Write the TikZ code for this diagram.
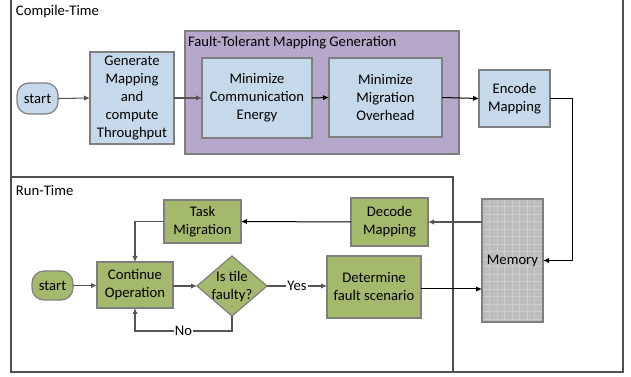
\documentclass[tikz,border=0pt]{standalone}
\usepackage{fontspec}
\setmainfont{Carlito}
\usetikzlibrary{arrows.meta,shapes.geometric}
\definecolor{boxblue}{HTML}{C6D9EA}
\definecolor{boxgreen}{HTML}{A5B96C}
\definecolor{boxpurple}{HTML}{B6A8CB}
\definecolor{boxline}{HTML}{7F7F7F}
\definecolor{memfill}{HTML}{BDBDBD}
\definecolor{memgrid}{HTML}{CDCDCD}
\definecolor{frameline}{HTML}{505050}
\definecolor{arrgray}{HTML}{555555}
\tikzset{
  every node/.style={inner sep=0pt, outer sep=0pt},
  bluebox/.style={draw=boxline, line width=0.9pt, fill=boxblue, align=center},
  greenbox/.style={draw=boxline, line width=0.9pt, fill=boxgreen, align=center},
  startbox/.style={rounded corners=9pt},
  garr/.style={draw=arrgray, line width=0.8pt, -{Latex[length=4.5pt,width=4pt]}},
  barr/.style={draw=black, line width=0.75pt, -{Latex[length=4.5pt,width=4pt]}},
  gline/.style={draw=arrgray, line width=0.8pt},
  lbl/.style={fill=white, inner sep=1pt},
}
\begin{document}
\begin{tikzpicture}[x=0.75pt, y=-0.75pt, font=\fontsize{11}{13.5}\selectfont]
\useasboundingbox (0,0) rectangle (631,377);
% frames
\draw[frameline, line width=0.8pt] (11,-5) rectangle (623,372);
\draw[frameline, line width=0.8pt] (11,177) rectangle (453,372);
\node[anchor=west] (ctl) at (16,12) {Compile-Time};
\node[anchor=west] (rtl) at (16,191) {Run-Time};
% fault-tolerant group
\node[draw=boxline, line width=0.9pt, fill=boxpurple, minimum width=274*0.75pt, minimum height=123*0.75pt] (ftm) at (322,92.5) {};
\node[anchor=west] (ftml) at (188,43) {Fault-Tolerant Mapping Generation};
% compile-time nodes
\node[bluebox, startbox, minimum width=41*0.75pt, minimum height=31*0.75pt] (s1) at (37.5,98.5) {start};
\node[bluebox, minimum width=84*0.75pt, minimum height=92*0.75pt] (gen) at (132,98) {Generate\\Mapping\\and\\compute\\Throughput};
\node[bluebox, minimum width=110*0.75pt, minimum height=80*0.75pt] (mce) at (257,98) {Minimize\\Communication\\Energy};
\node[bluebox, minimum width=113*0.75pt, minimum height=79*0.75pt] (mmo) at (385.5,97.5) {Minimize\\Migration\\Overhead};
\node[bluebox, minimum width=71*0.75pt, minimum height=57*0.75pt] (enc) at (514.5,98.5) {Encode\\Mapping};
% memory
\node[fill=memfill, minimum width=61*0.75pt, minimum height=123*0.75pt] (mem) at (512.5,260.5) {};
\begin{scope}
\clip (mem.south west) rectangle (mem.north east);
\foreach \gx in {489.5,497,...,543} {\draw[memgrid, line width=0.7pt] (\gx,199) -- (\gx,322);}
\foreach \gy in {206.5,214,...,322} {\draw[memgrid, line width=0.7pt] (482,\gy) -- (543,\gy);}
\end{scope}
\draw[boxline, line width=1.4pt] (mem.south west) rectangle (mem.north east);
\node (meml) at (mem.center) {Memory};
% run-time nodes
\node[greenbox, minimum width=77*0.75pt, minimum height=43*0.75pt] (tm) at (202.5,221.5) {Task\\Migration};
\node[greenbox, minimum width=77*0.75pt, minimum height=48*0.75pt] (dec) at (389.5,222) {Decode\\Mapping};
\node[greenbox, minimum width=76*0.75pt, minimum height=46*0.75pt] (co) at (135,285) {Continue\\Operation};
\node[greenbox, startbox, minimum width=41*0.75pt, minimum height=29*0.75pt] (s2) at (52.5,285.5) {start};
\node[greenbox, minimum width=94*0.75pt, minimum height=62*0.75pt] (det) at (374,287) {Determine\\fault scenario};
% diamond
\coordinate (dL) at (197,286);
\coordinate (dR) at (267,286);
\coordinate (dT) at (232,256);
\coordinate (dB) at (232,316);
\draw[boxline, line width=0.9pt, fill=boxgreen] (dL) -- (dT) -- (dR) -- (dB) -- cycle;
\node[align=center] (dia) at (232,287) {Is tile\\faulty?};
% compile-time connectors
\draw[garr] (s1.east) -- (gen.west);
\draw[garr] (gen.east) -- (mce.west);
\draw[barr] (mce.east) -- (mmo.west);
\draw[barr] (mmo.east) -- (enc.west);
\draw[barr] (enc.east) -- ++(22,0) |- (mem.east);
% run-time connectors
\draw[garr] (mem.west |- dec.east) -- (dec.east);
\draw[barr] (dec.west) -- (tm.east);
\draw[garr] (tm.west) -| (co.north);
\draw[garr] (s2.east) -- (s2.east -| co.west);
\draw[garr] (co.east |- dL) -- (dL);
\draw[garr] (dR) -- node[lbl] (yes) {Yes} (det.west |- dR);
\coordinate (detout) at (421,289);
\draw[barr] (det.east |- detout) -- (mem.west |- detout);
\draw[garr] (dB) -- (232,331) -- node[lbl, pos=0.5] (no) {No} (135,331) -- (co.south);
\end{tikzpicture}
\end{document}
